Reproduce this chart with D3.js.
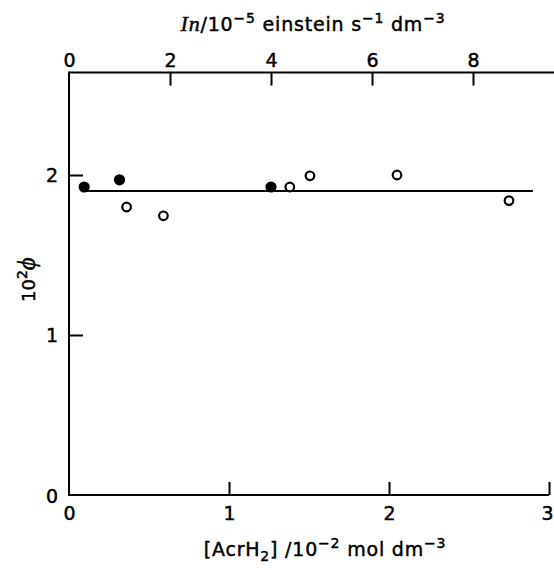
<!DOCTYPE html>
<html>
<head>
<meta charset="utf-8">
<script src="https://cdn.jsdelivr.net/npm/d3@7/dist/d3.min.js"></script>
<style>
  html, body { margin: 0; padding: 0; background: #fff; }
  svg { display: block; }
  text { font-family: "DejaVu Sans", sans-serif; fill: #000; stroke: #000; stroke-width: 0.45px; }
</style>
</head>
<body>
<svg id="chart" width="554" height="570"></svg>
<script>
// Quantum yield data
// Open circles: varying [AcrH2] (bottom axis, 10^-2 mol dm^-3)
const acrConc = [0.36, 0.59, 1.38, 1.506, 2.05, 2.75];
const acrPhi  = [1.80, 1.745, 1.925, 1.995, 2.00, 1.84];
// Filled circles: varying light intensity In (top axis, 10^-5 einstein s^-1 dm^-3)
const inValues = [0.3, 1.0, 4.0];
const inPhi    = [1.925, 1.97, 1.925];
// Mean quantum yield line
const meanPhi = 1.90;
const meanRange = [0.08, 2.9];

const xTicks = [0, 1, 2, 3];
const topTicks = [0, 2, 4, 6, 8];
const yTicks = [0, 1, 2];

const svg = d3.select("#chart");
const x0 = 69, y0 = 495, unit = 160, yMax = 2.64;

const x = d3.scaleLinear().domain([0, 3]).range([x0, x0 + 3 * unit]);
const xTop = d3.scaleLinear().domain([0, 8]).range([x0, 473]);
const y = d3.scaleLinear().domain([0, yMax]).range([y0, y0 - yMax * unit]);
const yTop = y(yMax);

const lw = 2;

// Bottom axis
const gB = svg.append("g").attr("transform", `translate(0,${y0})`)
  .call(d3.axisBottom(x).tickValues(xTicks).tickSize(-13).tickPadding(12).tickFormat(d3.format("d")));
// Top axis (runs past the plotting frame)
const gT = svg.append("g").attr("transform", `translate(0,${yTop})`)
  .call(d3.axisTop(xTop).tickValues(topTicks).tickSize(-13).tickPadding(6).tickFormat(d3.format("d")));
// Left axis
const gL = svg.append("g").attr("transform", `translate(${x0},0)`)
  .call(d3.axisLeft(y).tickValues(yTicks).tickSize(-14).tickPadding(11).tickFormat(d3.format("d")));

[gB, gT, gL].forEach(g => {
  g.select(".domain").remove();
  g.attr("font-family", null).attr("font-size", null);
  g.selectAll(".tick line").attr("stroke", "#000").attr("stroke-width", lw);
  g.selectAll(".tick text").attr("font-size", 19).attr("fill", "#000");
  g.selectAll(".tick").filter(d => d === 0).select("line").remove();
});
gL.selectAll(".tick").filter(d => d === 0).select("text").attr("dy", "0.42em");
// keep the last bottom label inside the page edge
gB.selectAll(".tick").filter(d => d === 3).select("text").attr("dx", -2);

// Axis lines
svg.append("line").attr("x1", x0).attr("x2", x(3)).attr("y1", y0).attr("y2", y0)
  .attr("stroke", "#000").attr("stroke-width", lw);
svg.append("line").attr("x1", x0).attr("x2", 554).attr("y1", yTop).attr("y2", yTop)
  .attr("stroke", "#000").attr("stroke-width", lw);
svg.append("line").attr("x1", x0).attr("x2", x0).attr("y1", yTop - 1).attr("y2", y0 + 1)
  .attr("stroke", "#000").attr("stroke-width", lw);

// Mean line
svg.append("line")
  .attr("x1", x(meanRange[0])).attr("x2", x(meanRange[1]))
  .attr("y1", y(meanPhi)).attr("y2", y(meanPhi))
  .attr("stroke", "#000").attr("stroke-width", lw);

// Open circles
svg.append("g").selectAll("circle").data(acrConc.map((c, i) => [c, acrPhi[i]]))
  .join("circle")
  .attr("cx", d => x(d[0])).attr("cy", d => y(d[1])).attr("r", 4.3)
  .attr("fill", "#fff").attr("stroke", "#000").attr("stroke-width", 2.2);

// Filled circles
svg.append("g").selectAll("circle").data(inValues.map((v, i) => [v, inPhi[i]]))
  .join("circle")
  .attr("cx", d => xTop(d[0])).attr("cy", d => y(d[1])).attr("r", 5.6)
  .attr("fill", "#000");

// Top axis title
const tt = svg.append("text").attr("x", 313).attr("y", 31).attr("text-anchor", "middle")
  .attr("font-size", 19).attr("letter-spacing", 0.8);
tt.append("tspan").attr("font-family", "Liberation Serif, serif").attr("font-style", "italic").attr("font-size", 22).text("In");
tt.append("tspan").text("/10");
tt.append("tspan").attr("dy", -8).attr("font-size", 14).text("−5");
tt.append("tspan").attr("dy", 8).text(" einstein s");
tt.append("tspan").attr("dy", -8).attr("font-size", 14).text("−1");
tt.append("tspan").attr("dy", 8).text("  dm");
tt.append("tspan").attr("dy", -8).attr("font-size", 14).text("−3");

// Bottom axis title
const bt = svg.append("text").attr("x", 325).attr("y", 556).attr("text-anchor", "middle")
  .attr("font-size", 19).attr("letter-spacing", 0.8);
bt.append("tspan").text("[AcrH");
bt.append("tspan").attr("dy", 5).attr("font-size", 14).text("2");
bt.append("tspan").attr("dy", -5).text("] /10");
bt.append("tspan").attr("dy", -8).attr("font-size", 14).text("−2");
bt.append("tspan").attr("dy", 8).text(" mol  dm");
bt.append("tspan").attr("dy", -8).attr("font-size", 14).text("−3");

// Left axis title
const lt = svg.append("text").attr("transform", "translate(35,302) rotate(-90)").attr("font-size", 18);
lt.append("tspan").text("10");
lt.append("tspan").attr("dy", -8).attr("font-size", 14).text("2");
lt.append("tspan").attr("dy", 8).attr("font-family", "Liberation Serif, serif").attr("font-style", "italic").attr("font-size", 25).text("ϕ");
</script>
</body>
</html>
